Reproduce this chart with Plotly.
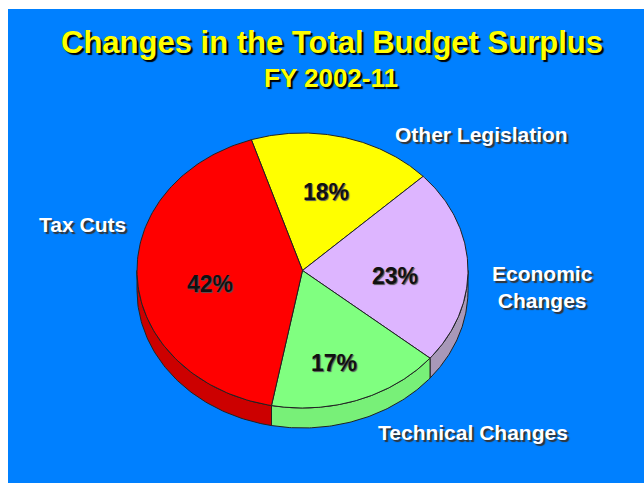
import numpy as np
import plotly.graph_objects as go

# ---- data ----
categories = ["Other Legislation", "Economic Changes", "Technical Changes", "Tax Cuts"]
values = [18, 23, 17, 42]
pct_labels = ["18%", "23%", "17%", "42%"]
title_text = "Changes in the Total Budget Surplus"
subtitle_text = "FY 2002-11"

# ---- style ----
top_colors = ["#FFFF00", "#DDB5FF", "#80FF80", "#FF0000"]
side_colors = ["#CCCC00", "#A898B8", "#78F078", "#CC0000"]
edge = "#222222"
bg_blue = "#0080FF"

W, H = 644, 485
CX, CY, A, B = 302.5, 270.5, 165.5, 137.5   # ellipse geometry (pixel space)
DEPTH = 20
START = -18.0  # degrees clockwise from 12 o'clock

def pt(theta_deg, dy=0.0, fx=1.0, fy=1.0):
    t = np.radians(theta_deg)
    return CX + A * fx * np.sin(t), CY - B * fy * np.cos(t) + dy

fig = go.Figure()

total = float(sum(values))
bounds = []
ang = START
for v in values:
    span = v / total * 360.0
    bounds.append((ang, ang + span))
    ang += span

# side walls (front half only: 90..270 deg)
for (t1, t2), col in zip(bounds, side_colors):
    lo, hi = max(t1, 90.0), min(t2, 270.0)
    if lo >= hi:
        continue
    th = np.linspace(lo, hi, 80)
    xs_top, ys_top = pt(th)
    xs_bot, ys_bot = pt(th[::-1], dy=DEPTH)
    xs = np.concatenate([xs_top, xs_bot, xs_top[:1]])
    ys = np.concatenate([ys_top, ys_bot, ys_top[:1]])
    fig.add_trace(go.Scatter(x=xs, y=ys, fill="toself", fillcolor=col,
                             mode="lines", line=dict(color=edge, width=1),
                             hoverinfo="skip", showlegend=False))

# top faces
for (t1, t2), col, name in zip(bounds, top_colors, categories):
    th = np.linspace(t1, t2, 120)
    xa, ya = pt(th)
    xs = np.concatenate([[CX], xa, [CX]])
    ys = np.concatenate([[CY], ya, [CY]])
    fig.add_trace(go.Scatter(x=xs, y=ys, fill="toself", fillcolor=col,
                             mode="lines", line=dict(color=edge, width=1),
                             name=name, hoverinfo="name", showlegend=False))

# percentage labels placed at slice mid angles
for (t1, t2), lab in zip(bounds, pct_labels):
    mx, my = pt((t1 + t2) / 2.0, dy=8, fx=0.56, fy=0.65)
    fig.add_annotation(x=mx, y=my, xref="x", yref="y", text=lab, showarrow=False,
                       font=dict(family="Liberation Sans, Arial", size=23, color="#111111",
                                 weight="bold", shadow="1px 1px 1px #555555"))

label_font = dict(family="Liberation Sans, Arial", size=21, color="#FFFFFF",
                  weight="bold", shadow="2px 2px 1px #333333")
outer = [
    ("Other Legislation", 481, 134),
    ("Economic<br>Changes", 542, 287),
    ("Technical Changes", 473, 432),
    ("Tax Cuts", 82, 224),
]
for txt, x, y in outer:
    fig.add_annotation(x=x, y=y, xref="x", yref="y", text=txt, showarrow=False,
                       font=label_font, align="center")

title_font = dict(family="Liberation Sans, Arial", color="#FFFF00", weight="bold",
                  shadow="2px 2px 1px #000000")
fig.add_annotation(x=332, y=42, xref="x", yref="y", text=title_text, showarrow=False,
                   font=dict(size=31, **title_font))
fig.add_annotation(x=331, y=78, xref="x", yref="y", text=subtitle_text, showarrow=False,
                   font=dict(size=26, **title_font))

fig.update_layout(
    width=W, height=H,
    margin=dict(l=8, r=0, t=9, b=2),
    paper_bgcolor="#FFFFFF",
    plot_bgcolor=bg_blue,
    xaxis=dict(range=[8, W], visible=False, fixedrange=True),
    yaxis=dict(range=[H - 2, 9], visible=False, fixedrange=True),
    showlegend=False,
)

fig.write_html("out.html")
